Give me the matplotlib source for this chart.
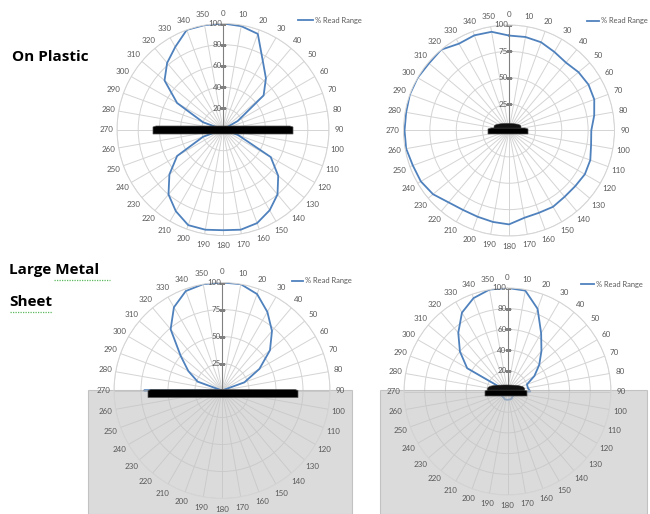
import numpy as np
import matplotlib
matplotlib.use('Agg')
import matplotlib.pyplot as plt
from matplotlib.patches import Rectangle, Polygon
from matplotlib.lines import Line2D
from matplotlib.transforms import offset_copy

plt.rcParams['font.family'] = ['Lato', 'DejaVu Sans']

W, H = 650, 514

# % read range per tag orientation (degrees, 10 deg steps)
angles = list(range(0, 360, 10))
plastic_a = [100, 99, 96, 75, 63, 50, 16, 0, 0, 0, 0, 15,
             52, 68, 80, 88, 94, 96, 95, 96, 96, 89, 80, 66,
             50, 20, 0, 0, 0, 20, 50, 72, 82, 90, 100, 100]
plastic_b = [90, 90, 89, 86, 84, 86, 87, 86, 82, 78, 79, 82,
             83, 82, 82, 83.5, 83, 84, 89, 88, 87, 87, 89, 94,
             96.5, 97, 99, 99, 99, 100, 100, 99, 100, 95, 96, 95]
metal_a = [100, 100, 95, 84, 72, 58, 40, 22, 0, 0, 0, 0,
           0, 0, 0, 0, 0, 0, 0, 0, 0, 0, 0, 0,
           0, 0, 0, 72, 0, 24, 36, 50, 74, 89, 98, 100]
metal_b = [100, 99, 85, 65, 51, 40, 30, 20, 20, 22, 8, 7,
           7, 7, 7, 8, 8, 8, 8, 8, 8, 7, 7, 7,
           7, 7, 6, 10, 5, 0, 45, 60, 74, 88, 96, 100]

ticks_20 = [20, 40, 60, 80, 100]
ticks_25 = [25, 50, 75, 100]

GRID = '#d4d4d4'
TXT = '#595959'
BLUE = '#4f81bd'
FS = 5.8

fig = plt.figure(figsize=(W / 100, H / 100), dpi=100)


def polar_chart(cx, cy, R, values, rticks):
    ax = fig.add_axes([(cx - R) / W, 1 - (cy + R) / H, 2 * R / W, 2 * R / H],
                      projection='polar')
    ax.set_theta_zero_location('N')
    ax.set_theta_direction(-1)
    ax.set_ylim(0, 100)
    ax.set_xticks(np.radians(angles))
    ax.set_xticklabels([])
    ax.set_yticks(rticks)
    ax.set_yticklabels([])
    ax.tick_params(length=0)
    ax.grid(color=GRID, lw=0.7)
    ax.spines['polar'].set_color(GRID)
    ax.spines['polar'].set_linewidth(0.7)
    ax.set_facecolor('none')

    th = np.radians(angles + [angles[0]])
    ax.plot(th, values + [values[0]], color=BLUE, lw=1.3, zorder=2)

    # value axis
    ax.plot([0, 0], [0, 100], color='#808080', lw=0.8, zorder=2.1)
    ax.plot([0] * len(rticks), rticks, ls='none', marker='_', ms=5,
            mew=0.8, color='#808080', zorder=2.1)
    lab_tr = offset_copy(ax.transData, fig=fig, x=-1, y=0, units='dots')
    for t in rticks:
        ax.text(0, t, str(t), transform=lab_tr, ha='right', va='center',
                fontsize=FS, color=TXT, zorder=3)

    lab_r = 100 * (R + 10.5) / R
    for a in angles:
        ax.text(np.radians(a), lab_r, str(a), ha='center', va='center',
                fontsize=FS, color=TXT, zorder=3)
    return ax


def tag(ax, R, x0, x1, y0, y1, dome=None):
    # pixel offsets from the chart centre (right +, down +)
    f = lambda dx, dy: (0.5 + dx / (2 * R), 0.5 - dy / (2 * R))
    pts = [f(x0, y1), f(x0, y0 + 1), f(x0 + 3, y0), f(x1 - 3, y0),
           f(x1, y0 + 1), f(x1, y1)]
    ax.add_patch(Polygon(pts, closed=True, transform=ax.transAxes,
                         facecolor='black', edgecolor='#555555', lw=0.5,
                         zorder=5, clip_on=False))
    if dome is not None:
        dx0, dx1, dtop = dome
        t = np.linspace(0, np.pi, 30)
        mid, hw = (dx0 + dx1) / 2, (dx1 - dx0) / 2
        dpts = [f(mid - hw * np.cos(s), y0 - (y0 - dtop) * np.sin(s) ** 0.5)
                for s in t]
        ax.add_patch(Polygon(dpts, closed=True, transform=ax.transAxes,
                             facecolor='#111111', edgecolor='#333333', lw=0.4,
                             zorder=5, clip_on=False))


def metal_sheet(ax, x0, x1, y0, y1):
    ax.add_artist(Rectangle((x0 / W, 1 - y1 / H), (x1 - x0) / W, (y1 - y0) / H,
                            transform=fig.transFigure, facecolor='#c4c4c4',
                            alpha=0.6, edgecolor='#a6a6a6', lw=0.8,
                            zorder=2.2, clip_on=False))


def legend(x, y, w):
    fig.add_artist(Line2D([x / W, (x + w) / W], [1 - y / H, 1 - y / H],
                          color=BLUE, lw=1.3))
    fig.text((x + w + 2) / W, 1 - y / H, '% Read Range', fontsize=5.4,
             color=TXT, ha='left', va='center')


ax1 = polar_chart(223, 129.5, 106, plastic_a, ticks_20)
tag(ax1, 106, -70, 70, -3.5, 4.5)
ax2 = polar_chart(509, 130.5, 105.5, plastic_b, ticks_25)
tag(ax2, 105.5, -21, 19, -2.5, 3.5, dome=(-15, 12, -7))
ax3 = polar_chart(222, 390.5, 108, metal_a, ticks_25)
metal_sheet(ax3, 88, 352, 390, 514)
tag(ax3, 108, -74, 76, -1, 7)
ax4 = polar_chart(507.5, 391.5, 103.5, metal_b, ticks_20)
metal_sheet(ax4, 380, 647, 390, 514)
tag(ax4, 103.5, -22.5, 19.5, -1.5, 4.5, dome=(-20, 17, -6.5))

legend(298, 20, 15)
legend(587, 21, 12)
legend(292, 281, 11)
legend(581, 284, 13)

title_kw = dict(fontsize=11, fontweight='bold', ha='left', va='center',
                color='black', family=['Open Sans', 'DejaVu Sans'])
fig.text(12 / W, 1 - 57 / H, 'On Plastic', **title_kw)
fig.text(9 / W, 1 - 270 / H, 'Large Metal', **title_kw)
fig.text(9 / W, 1 - 302 / H, 'Sheet', **title_kw)
# spell-check squiggles under the labels
fig.add_artist(Line2D([54 / W, 110 / W], [1 - 280 / H] * 2, color='#5cb85c',
                      lw=0.9, ls=(0, (1, 1))))
fig.add_artist(Line2D([10 / W, 52 / W], [1 - 312 / H] * 2, color='#5cb85c',
                      lw=0.9, ls=(0, (1, 1))))

fig.savefig('out.png', dpi=100, facecolor='white')
